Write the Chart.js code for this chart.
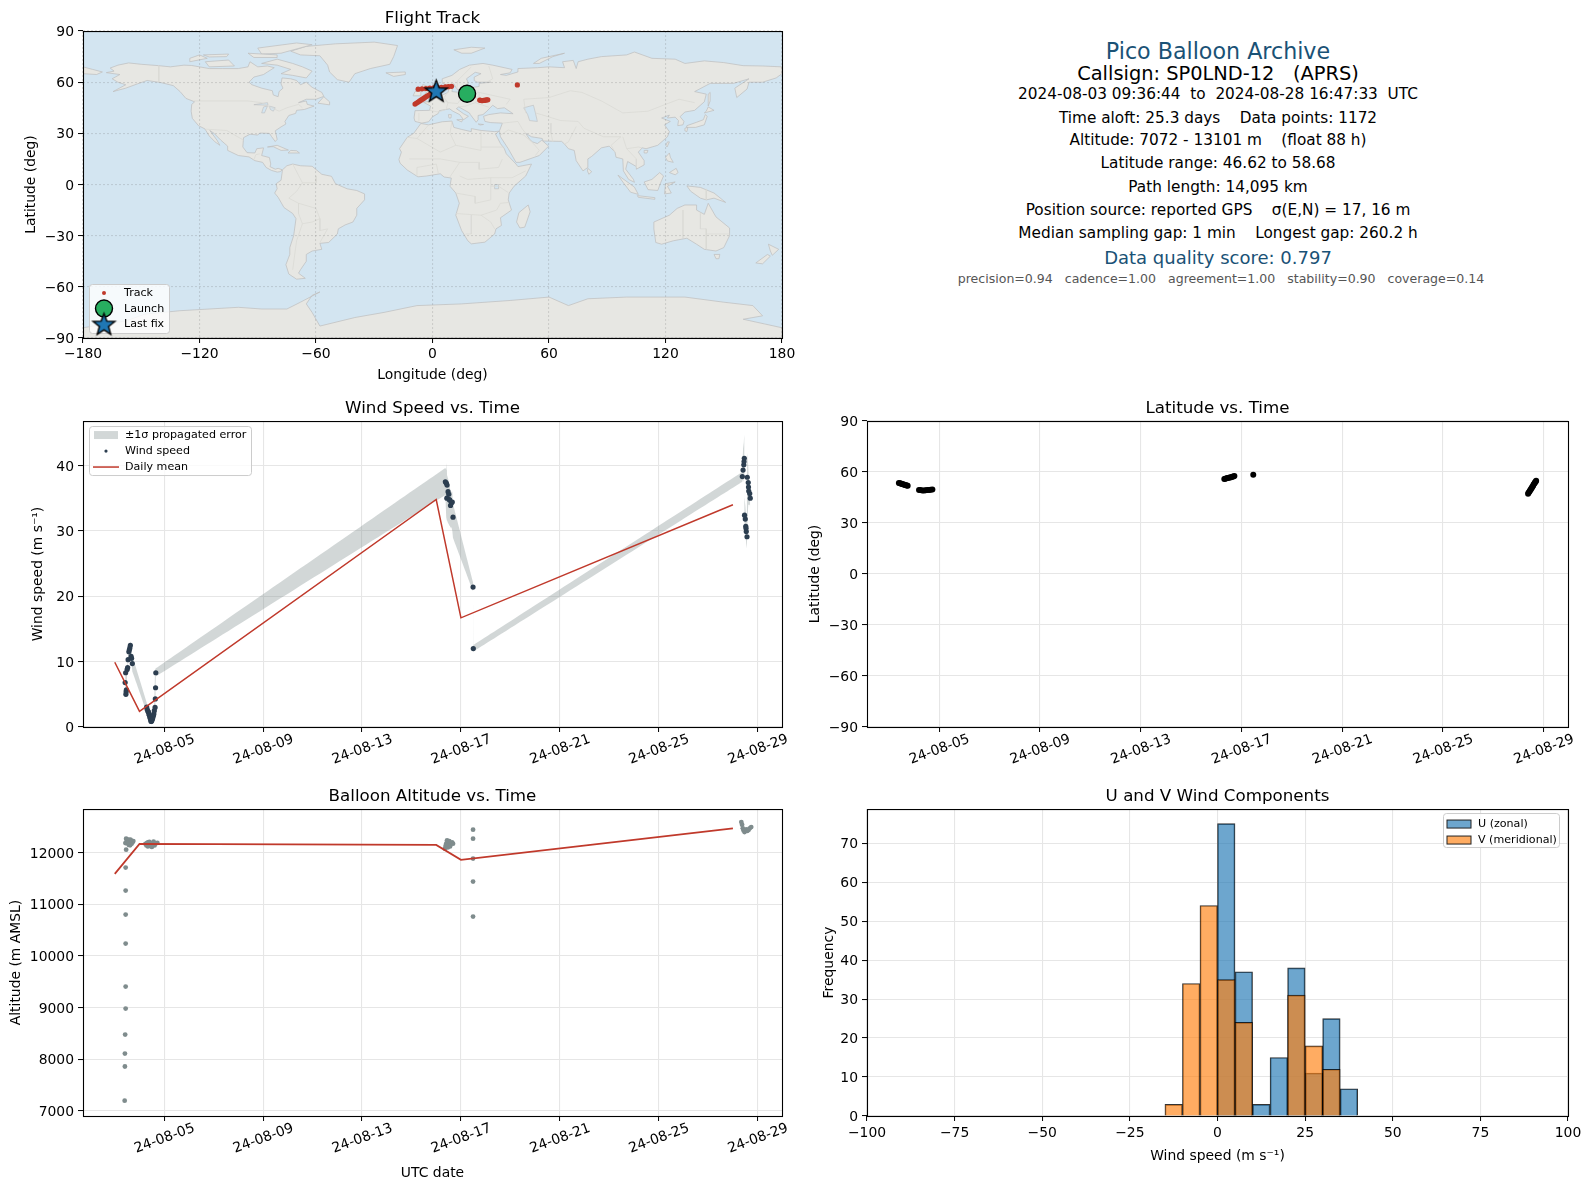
<!DOCTYPE html>
<html>
<head>
<meta charset="utf-8">
<title>Pico Balloon Archive</title>
<script src="https://cdn.jsdelivr.net/npm/chart.js@4/dist/chart.umd.js"></script>
<style>
html, body { margin: 0; padding: 0; background: #fff; }
#page { position: relative; width: 1589px; height: 1189px; overflow: hidden; font-family: "DejaVu Sans", sans-serif; color: #000; }
#page canvas { position: absolute; }
.info { position: absolute; left: 1218px; transform: translate(-50%, -50%); white-space: pre; font-size: 15.3px; }
.info.head { font-size: 22.2px; color: #1a5276; }
.info.call { font-size: 19.4px; }
.info.score { font-size: 18px; color: #1a5276; }
.info.small { font-size: 12.55px; color: #555; left: 1221px; }
</style>
</head>
<body>
<div id="page">
  <canvas id="mapChart"></canvas>
  <canvas id="windChart"></canvas>
  <canvas id="latChart"></canvas>
  <canvas id="altChart"></canvas>
  <canvas id="histChart"></canvas>
  <div class="info head" style="top:51px">Pico Balloon Archive</div>
  <div class="info call" style="top:73px">Callsign: SP0LND-12   (APRS)</div>
  <div class="info" style="top:94px">2024-08-03 09:36:44  to  2024-08-28 16:47:33  UTC</div>
  <div class="info" style="top:118px">Time aloft: 25.3 days    Data points: 1172</div>
  <div class="info" style="top:140px">Altitude: 7072 - 13101 m    (float 88 h)</div>
  <div class="info" style="top:163px">Latitude range: 46.62 to 58.68</div>
  <div class="info" style="top:187px">Path length: 14,095 km</div>
  <div class="info" style="top:210px">Position source: reported GPS    σ(E,N) = 17, 16 m</div>
  <div class="info" style="top:233px">Median sampling gap: 1 min    Longest gap: 260.2 h</div>
  <div class="info score" style="top:257px">Data quality score: 0.797</div>
  <div class="info small" style="top:278px">precision=0.94   cadence=1.00   agreement=1.00   stability=0.90   coverage=0.14</div>
</div>
<script>
// ---- tick lists
const timeTickDays = [5, 9, 13, 17, 21, 25, 29];
const timeTickLabels = ['24-08-05', '24-08-09', '24-08-13', '24-08-17', '24-08-21', '24-08-25', '24-08-29'];
const lonTicks = [-180, -120, -60, 0, 60, 120, 180];
const latTicks = [-90, -60, -30, 0, 30, 60, 90];
const windTicks = [0, 10, 20, 30, 40];
const altTicks = [7000, 8000, 9000, 10000, 11000, 12000];
const histXTicks = [-100, -75, -50, -25, 0, 25, 50, 75, 100];
const histYTicks = [0, 10, 20, 30, 40, 50, 60, 70];

// ---- track (day of August 2024, latitude, longitude)
const trackDays = [3.40, 3.44, 3.48, 3.52, 3.56, 3.60, 3.64, 3.68, 3.72, 3.75,
  4.20, 4.26, 4.33, 4.40, 4.46, 4.53, 4.60, 4.66, 4.73,
  16.32, 16.36, 16.41, 16.45, 16.50, 16.54, 16.59, 16.63, 16.68, 16.72,
  17.47,
  28.38, 28.40, 28.43, 28.45, 28.48, 28.50, 28.53, 28.55, 28.58, 28.60, 28.63, 28.65, 28.68, 28.70];
const trackLat = [53.6, 53.4, 53.2, 53.0, 52.8, 52.7, 52.4, 52.2, 52.1, 51.9,
  49.5, 49.4, 49.2, 49.2, 49.3, 49.4, 49.5, 49.6, 49.7,
  55.9, 56.1, 56.3, 56.5, 56.7, 56.8, 57.0, 57.2, 57.4, 57.6,
  58.4,
  47.2, 47.8, 48.4, 49.0, 49.6, 50.2, 50.8, 51.4, 52.0, 52.6, 53.2, 53.8, 54.3, 54.8];
const trackLon = [18.0, 18.4, 18.7, 19.0, 19.3, 19.7, 20.0, 20.3, 20.7, 21.0,
  24.3, 24.8, 25.3, 25.8, 26.3, 26.8, 27.3, 27.9, 28.5,
  -7.4, -5.4, -3.4, -1.4, 0.6, 2.6, 4.6, 6.6, 8.2, 9.8,
  43.7,
  -9.0, -8.2, -7.4, -6.6, -5.8, -5.0, -4.2, -3.4, -2.6, -1.7, -0.8, 0.2, 1.0, 1.9];
const launchLon = [17.8];
const launchLat = [53.2];
const lastFixLon = [1.9];
const lastFixLat = [55.0];

// ---- wind speed with propagated error band
const windDays = [3.42, 3.44, 3.45, 3.46, 3.47, 3.50, 3.52, 3.54, 3.57, 3.59, 3.61, 3.63, 3.66, 3.68, 3.71,
  4.29, 4.31, 4.34, 4.36, 4.38, 4.40, 4.42, 4.44, 4.46, 4.47, 4.49, 4.51, 4.53, 4.55, 4.56, 4.58, 4.60, 4.63, 4.64, 4.65, 4.66,
  16.37, 16.41, 16.43, 16.44, 16.48, 16.51, 16.53, 16.55, 16.58, 16.62, 16.65, 16.68, 17.49, 17.50,
  28.38, 28.41, 28.44, 28.45, 28.46, 28.47, 28.50, 28.52, 28.53, 28.54, 28.57, 28.58, 28.62, 28.63, 28.64, 28.68, 28.70];
const windSpeed = [6.8, 8.3, 5.0, 5.4, 5.7, 8.8, 9.1, 10.3, 11.5, 11.8, 12.1, 12.5, 10.8, 10.5, 9.7,
  3.05, 2.7, 2.4, 2.3, 2.0, 1.8, 1.5, 1.27, 1.0, 0.86, 0.9, 1.1, 1.3, 1.6, 1.8, 2.0, 2.5, 3.0, 4.3, 6.0, 8.3,
  37.5, 37.3, 35.0, 37.0, 36.0, 35.6, 34.8, 34.7, 33.9, 34.3, 34.4, 32.1, 21.4, 12.0,
  38.3, 39.3, 40.1, 40.6, 41.1, 32.4, 31.8, 30.7, 30.4, 29.9, 29.1, 38.2, 37.4, 36.7, 36.1, 35.7, 35.0];
const windUpper = [8.8, 8.8, 8.8, 8.8, 8.8, 9.5, 9.8, 11.0, 12.2, 12.5, 12.8, 13.1, 11.6, 11.3, 10.9,
  3.8, 3.2, 2.9, 2.8, 2.5, 2.3, 2.0, 1.7, 1.5, 1.4, 1.4, 1.6, 1.8, 2.1, 2.3, 2.5, 3.0, 8.8, 8.8, 8.9, 8.9,
  39.6, 39.3, 40.4, 38.5, 38.0, 37.5, 37.0, 36.8, 36.0, 36.0, 36.0, 34.1, 22.2, 12.5,
  39.0, 42.5, 43.5, 44.2, 44.7, 35.0, 34.0, 33.0, 32.5, 32.0, 31.0, 41.9, 40.0, 39.0, 38.0, 37.5, 36.5];
const windLower = [4.6, 4.6, 4.6, 5.0, 5.3, 8.0, 8.4, 9.6, 10.8, 11.1, 11.4, 11.8, 10.0, 9.7, 8.5,
  2.3, 2.2, 1.9, 1.8, 1.5, 1.3, 1.0, 0.8, 0.5, 0.4, 0.4, 0.6, 0.8, 1.1, 1.3, 1.5, 2.0, 2.5, 3.7, 5.4, 7.7,
  35.5, 32.0, 31.6, 31.6, 31.2, 31.0, 30.8, 30.8, 30.5, 30.5, 30.0, 28.9, 20.8, 11.5,
  37.5, 38.2, 37.5, 38.0, 38.0, 30.0, 29.5, 28.8, 28.5, 28.0, 27.2, 30.0, 34.0, 34.0, 34.0, 34.0, 33.5];
const meanDays = [3, 4, 16, 17, 28];
const meanWind = [9.9, 2.4, 34.8, 16.7, 34.0];
const meanAlt = [11590, 12170, 12150, 11860, 12470];

// ---- altitude
const altDays = [3.40, 3.41, 3.41, 3.42, 3.44, 3.44, 3.44, 3.44, 3.44, 3.44, 3.46,
  3.43, 3.46, 3.48, 3.50, 3.52, 3.55, 3.57, 3.60, 3.62, 3.65, 3.68, 3.70, 3.72, 3.75, 3.55, 3.63,
  4.24, 4.28, 4.31, 4.34, 4.37, 4.40, 4.43, 4.46, 4.50, 4.53, 4.57, 4.61, 4.66, 4.72, 4.35, 4.48,
  16.35, 16.38, 16.41, 16.44, 16.47, 16.50, 16.53, 16.56, 16.60, 16.64, 16.68,
  17.49, 17.49, 17.49, 17.49, 17.49,
  28.34, 28.37, 28.40, 28.43, 28.47, 28.50, 28.54, 28.58, 28.63, 28.68, 28.74];
const altMeters = [7197, 7859, 8110, 8478, 8981, 9407, 10239, 10800, 11265, 11710, 12058,
  12186, 12271, 12250, 12180, 12230, 12251, 12150, 12205, 12141, 12238, 12174, 12224, 12200, 12224, 12190, 12250,
  12170, 12140, 12190, 12120, 12165, 12210, 12130, 12180, 12110, 12170, 12215, 12140, 12180, 12190, 12200, 12150,
  12077, 12130, 12180, 12238, 12100, 12150, 12220, 12120, 12174, 12200, 12174,
  12445, 12271, 11884, 11439, 10762,
  12592, 12540, 12470, 12430, 12399, 12420, 12450, 12420, 12440, 12470, 12495];

// ---- histogram, bins 5 wide
const uBinCentres = [2.5, 7.5, 12.5, 17.5, 22.5, 27.5, 32.5, 37.5];
const uCounts = [75, 37, 3, 15, 38, 11, 25, 7];
const vBinCentres = [-12.5, -7.5, -2.5, 2.5, 7.5, 22.5, 27.5, 32.5];
const vCounts = [3, 34, 54, 35, 24, 31, 18, 12];

// ---- map outlines [lon, lat]
const northAmerica = [[-168,65.6],[-164,66.5],[-166,68.3],[-162,70],[-156.5,71.3],[-150,70.5],[-141,69.7],[-135,69],[-128,70],[-124,69.8],[-115,68],[-108,68],[-100,68],[-95,69],[-94,72],[-90,69],[-85,69.5],[-81.5,68.5],[-85,66],[-87,64.5],[-92,63],[-94.5,60],[-93,58.5],[-88,56.5],[-82.5,55],[-82,52.5],[-79.5,51.5],[-79,54.5],[-77,56.5],[-78,59],[-77.5,62.5],[-73,62],[-70,61],[-68,58.5],[-65,60],[-62,57],[-57,54],[-56,51.7],[-60,50],[-65,50],[-69,48],[-65,49],[-64.5,47],[-61,46],[-66,44],[-70,43.5],[-70.5,41.7],[-74,40.5],[-76,37],[-75.5,35.5],[-78,33.8],[-81,31.5],[-80,26.5],[-81,25.2],[-82.8,28],[-84,30],[-89,30.2],[-90,29],[-94,29.5],[-97.3,27.5],[-97.7,22],[-95.5,18.7],[-91.5,18.5],[-90.5,21],[-87,21.5],[-88,17],[-84,15.8],[-83.3,12],[-83.7,10.5],[-81,9],[-79.5,9.5],[-77.3,8.6],[-78.5,7.5],[-80,7.3],[-83,8.3],[-85.7,10],[-87.5,13],[-91.5,14],[-94.5,16.2],[-100,17],[-105.5,20],[-105.5,22.5],[-109,26],[-112.5,30],[-114.7,31.7],[-111,26],[-109.5,23],[-112,25],[-115,28.5],[-117.2,32.6],[-120.5,34.5],[-123.7,38.8],[-124.3,43],[-124,47],[-122.5,48.5],[-127,50.5],[-130,54.5],[-133.5,58],[-140,59.8],[-147,61],[-152,59],[-158,56.5],[-164.5,54.5],[-158,58.5],[-162,60],[-165,62],[-161,64.5]];
const greenland = [[-73,78.2],[-65,81],[-50,82.5],[-30,83.5],[-18,81.5],[-20,75],[-22,70.5],[-32,68],[-40,65],[-43,60],[-49,61.5],[-53,66],[-54,70],[-58,75.5],[-68,76]];
const baffin = [[-80,73.5],[-72,71],[-67,69],[-62,66.5],[-65,62.5],[-72,64],[-78,65],[-73,67.5],[-80,70],[-88,71]];
const victoriaIsland = [[-117,72],[-105,73],[-102,69.5],[-115,69]];
const ellesmere = [[-90,80],[-70,83],[-62,82],[-78,77],[-88,76.5]];
const banksIsland = [[-125,72],[-116,74],[-120,76],[-125,74]];
const devonIsland = [[-95,77],[-80,76],[-80,74.5],[-92,74.5]];
const melvilleIsland = [[-118,76],[-105,76.5],[-106,75],[-115,74.8]];
const newfoundland = [[-59,47.7],[-53,46.7],[-53,48.5],[-56,51.5]];
const cuba = [[-85,22],[-80,23],[-74.2,20.2],[-78,20],[-82,22.2]];
const hispaniola = [[-74.4,18.5],[-68.5,18.5],[-70,19.8],[-73,20]];
const southAmerica = [[-77.3,8.6],[-75,11],[-72,12],[-68,11],[-62,10.7],[-57,6],[-52,4.8],[-50,0.5],[-44,-2.5],[-39,-3.5],[-35,-5.5],[-35,-9],[-39,-14],[-39,-18],[-41,-22],[-45,-23.7],[-48.5,-26],[-49,-29],[-53.5,-34],[-58,-34.5],[-57,-38],[-62,-39],[-65,-41],[-65,-45],[-68,-50],[-69,-52],[-65.5,-55],[-70,-55.5],[-74,-52.5],[-75.5,-47],[-73.5,-41],[-73.5,-37],[-71.5,-30],[-70.3,-20],[-72,-17],[-76.5,-13.5],[-79.5,-7.5],[-81.3,-5],[-80,-2.5],[-80.5,0.5],[-78,2.5],[-77.5,6.5]];
const africa = [[-6,35.8],[-2,35],[5,36.8],[10,37.2],[11,33.5],[15,32.3],[20,31],[20,32.8],[25,31.7],[32,31],[34.2,31.3],[32.5,29.5],[35,24],[37,21],[38,18],[43,12],[44,10.5],[51,12],[48,5],[42,-1],[39.5,-5],[39,-9],[40.7,-15],[35,-19.5],[35.5,-24],[32.7,-26],[32,-29],[27,-33.8],[20,-34.8],[18.2,-33],[15,-27],[12,-18],[13.8,-11],[12,-5],[9,-1],[9.7,3.8],[6,4.4],[4,6.3],[-3,5],[-7.5,4.5],[-13,8.5],[-16.7,12.5],[-17.3,14.7],[-16,19],[-17,21],[-13,27.7],[-9.7,30]];
const madagascar = [[49.3,-12],[50.3,-16],[47.5,-25],[45,-25.5],[43.3,-22],[44.5,-16.5]];
const eurasia = [[-9,37],[-9.5,39],[-9,43.3],[-1.5,43.5],[-1,46],[-4.7,48.3],[-1.5,48.7],[2,51],[4,52],[8,54],[8.5,57],[10.5,57.5],[10,54.5],[14,54],[19,54.5],[21,57],[24,57.5],[24,59.3],[30,60],[23,60],[21.5,61],[21.5,63],[25,65],[22,65.8],[17.5,62],[18.5,59.5],[16.5,57],[14,55.5],[12.5,56],[11,59],[8,58],[5,59.5],[5,62],[10,64],[14,67.5],[19,70],[26,71],[31,70],[41,67.5],[40,65.5],[35,64.5],[38,64],[44,66],[44,68],[54,68.5],[60,69],[68,68.5],[67,72],[72.5,72.8],[74,68],[75,72],[80,73.5],[87,75],[100,76],[104,77.7],[113,74],[125,73.5],[130,71],[140,72.5],[150,71.5],[160,69.7],[170,69.5],[180,69],[180,65],[177,62.5],[170,60],[163,60],[162,56],[156.7,51],[155.7,56.5],[163,62],[155,59.3],[143,59.3],[135,54.5],[141,53],[140,48.5],[135,43.5],[130,42.5],[127.5,39.8],[129.5,37],[129,35],[126.3,34.5],[126.7,37.5],[125,39.5],[121,39],[122,40.7],[118,39],[122.5,37],[119.5,35],[122,31],[121,28],[116,23],[110,21],[108,21.5],[106,19],[109,14],[109,11.5],[105,9],[105,10.5],[100.5,13.5],[99.5,9],[103.5,3],[104,1.3],[101,3],[98.3,8],[98,15],[94.5,16],[94,19],[91,22.5],[87,21.5],[82,16.5],[80,15],[80,10],[77.5,8],[74,14],[73,20],[70,21],[68,23.7],[66.5,25.3],[57,25.5],[56.5,27],[51,28],[48,30],[50,26.5],[51.5,25],[54,24],[56.3,26],[59.8,22.5],[55,17],[45,13],[43,13],[39,21],[35,28],[34.5,31.5],[36,36],[30,36.3],[27,37],[26.3,40],[29,41],[35,42],[41.5,41.5],[37,45],[33.5,44.5],[31,46.5],[28,43],[26,41],[23.5,40.5],[23.5,38],[22.5,36.5],[19.5,41],[19,42],[13.5,45.5],[12.3,44.5],[16,41.5],[18.5,40],[16,38],[14,41],[10.5,43],[8.8,44.4],[3.5,43.3],[3,41.7],[0,39.7],[-2,36.8],[-5.5,36]];
const chukotkaWest = [[-180,69],[-175,67.5],[-170,66],[-173,64.5],[-180,65]];
const greatBritain = [[-5.5,50],[1.3,51.2],[1.7,52.7],[-1.5,55],[-2,57.5],[-5,58.6],[-6,56],[-3,54],[-5,52]];
const ireland = [[-10,52],[-6,52],[-6,55],[-9,54.5]];
const iceland = [[-24,65.5],[-14,66],[-14,64.5],[-20,63.4]];
const svalbard = [[11,79],[20,80.5],[27,80],[20,77],[15,77]];
const novayaZemlya = [[52,71],[56,74],[68,77],[62,75],[55,71]];
const sicily = [[12.5,38],[15.6,38.2],[15,36.7]];
const sardinia = [[8.2,41],[9.7,41],[9.5,39],[8.5,39]];
const crete = [[23.5,35.5],[26.3,35.2],[24.5,34.9]];
const honshu = [[130.8,33.5],[135.5,33.5],[140,35],[141.5,40],[140.5,41],[139.5,38],[136,36.5],[131,34.5]];
const hokkaido = [[140,42],[145,43.5],[142,45.5],[141,43]];
const kyushu = [[130,33],[131.5,33.5],[131,31],[130,31.5]];
const sakhalin = [[142,46],[143,49],[143,54],[142,53],[142,48]];
const taiwan = [[120.2,23],[121,25],[122,25],[120.8,22]];
const hainan = [[109,18.5],[110.5,18.5],[111,20],[109,20]];
const sriLanka = [[80,9.5],[82,7.5],[80.5,6],[79.8,8]];
const luzon = [[120,16],[122,18.5],[122.5,16],[124,13],[121,13.8]];
const mindanao = [[122,7],[125.5,9.5],[126.5,7],[125,5.7]];
const sumatra = [[95.5,5.5],[104,-1.5],[106,-5.8],[102,-4.5],[98,1.5]];
const java = [[105.5,-6.5],[114.5,-7.7],[114.5,-8.7],[106,-7.5]];
const borneo = [[109,1.5],[113,3],[117,7],[119,5],[117.5,1],[116,-3.5],[111,-3]];
const sulawesi = [[119.5,-5.5],[120,0.5],[125,1.5],[121,-1],[123,-5]];
const newGuinea = [[131,-0.8],[138,-1.7],[145,-5],[151,-10.5],[145,-8],[141,-9],[138,-8],[133,-4]];
const australia = [[114,-22],[122,-18],[126,-14],[130,-12],[136,-12],[136,-15],[140,-17.5],[142,-11],[146,-19],[153,-25.5],[153,-30],[150,-37],[146,-39],[140,-38],[136,-35],[131,-31.5],[124,-33],[118,-35],[115,-34],[114,-26]];
const tasmania = [[145,-41],[148,-41],[147.5,-43.5],[146,-43.5]];
const newZealandNorth = [[173,-35],[178.3,-38],[175,-41.5],[174,-39]];
const newZealandSouth = [[172.5,-41],[174,-42],[170,-46.5],[166.5,-46]];
const antarctica = [[-180,-84],[-158,-80],[-148,-76],[-130,-74],[-100,-72],[-88,-73],[-75,-73],[-68,-69],[-58,-63],[-62,-65],[-65,-70],[-62,-75],[-58,-83],[-40,-78],[-25,-75],[-8,-71],[15,-70],[40,-68],[60,-66],[70,-71],[80,-67],[100,-66],[130,-66],[150,-69],[165,-71],[170,-77],[160,-79],[180,-84],[180,-90],[-180,-90]];
const landShapes = [northAmerica, greenland, baffin, victoriaIsland, ellesmere, banksIsland, devonIsland, melvilleIsland, newfoundland, cuba, hispaniola,
  southAmerica, africa, madagascar, eurasia, chukotkaWest, greatBritain, ireland, iceland, svalbard, novayaZemlya, sicily, sardinia, crete,
  honshu, hokkaido, kyushu, sakhalin, taiwan, hainan, sriLanka, luzon, mindanao, sumatra, java, borneo, sulawesi, newGuinea,
  australia, tasmania, newZealandNorth, newZealandSouth, antarctica];

const caspianSea = [[47,45],[52,46.5],[53,42],[54,37],[50,37.5],[49,41]];
const lakeVictoria = [[32,0],[34,0],[34,-2.5],[32,-2.5]];
const lakeSuperior = [[-92,46.8],[-85,48],[-84.7,46.5]];
const lakeMichigan = [[-88,42],[-86.5,42],[-85,46],[-87,45.5]];
const lakeHuron = [[-84,46],[-81,45],[-82,43],[-83.5,44]];
const waterShapes = [caspianSea, lakeVictoria, lakeSuperior, lakeMichigan, lakeHuron];

// a few country borders, only faint in the picture
const borderLines = [
  [[-123,49],[-95,49],[-88,48],[-83,45],[-79,43],[-75,45],[-69,47],[-67,45]],
  [[-141,69.7],[-141,60]],
  [[-117,32.5],[-106,31.7],[-97.3,26]],
  [[-92,14.5],[-91,17.5],[-89,18]],
  [[-72,12],[-67,1],[-70,-4],[-74,-8],[-69,-11],[-69,-17],[-67,-23],[-70,-33],[-72,-50]],
  [[-60,5],[-60,1],[-67,1]],
  [[-58,-20],[-58,-27],[-54,-26],[-58,-34]],
  [[-69,-11],[-60,-14],[-58,-20],[-62,-22],[-67,-23]],
  [[-2,35],[-8,27],[-13,27.7]],
  [[-8,27],[4,19],[12,23],[25,20],[25,31.7]],
  [[10,37],[9,30],[12,23]],
  [[25,22],[37,22]],
  [[-12,15],[4,15],[14,13],[24,13],[24,9],[34,10],[36,15]],
  [[-8,5],[-8,10],[-3,11],[2,12],[3,6.5]],
  [[9,4.5],[14,13]],
  [[14,5],[18,3],[30,4],[34,4],[41,4],[48,8]],
  [[12,-5],[22,-7],[22,-11],[30,-9],[30,4]],
  [[12,-17],[25,-18],[33,-15],[35,-11],[39.5,-10.5]],
  [[20,-18],[20,-29],[17,-29]],
  [[25,-18],[30,-22],[32,-26]],
  [[30,-1],[34,-1],[39,-4.7]],
  [[14,54],[15,51],[24,50.5],[24,54],[19,54.5]],
  [[8,54.5],[6,51],[8,48],[13,47.5],[15,51]],
  [[2,51],[6,49.5],[8,48],[7,44],[3,42.5],[-1.5,43.5]],
  [[-7,37],[-7,42]],
  [[13.5,45.5],[17,46],[22,48],[24,50.5]],
  [[24,54],[32,52],[40,50],[38,47]],
  [[22,48],[29,45.3]],
  [[28,60],[31,62],[29,69.5]],
  [[12.5,56],[13,61],[20,69]],
  [[48,42],[47,50],[60,51],[71,55],[77,54],[87,49]],
  [[53,42],[56,41],[66,37.5],[75,37]],
  [[61,36],[61,30],[62,25]],
  [[74,34],[70,25],[68,23.7]],
  [[75,37],[78,33],[88,28],[97,28],[92,23],[94,19]],
  [[98,28],[100,21],[106,22],[108,21.5]],
  [[100,21],[105,15],[105,10]],
  [[87,49],[98,42],[111,43],[120,47],[127,50],[135,48]],
  [[36,36],[44,37],[46,33],[48,30]],
  [[35,29],[39,32],[47,29],[52,24],[55,20],[53,17]],
  [[141,-2.6],[141,-9]],
  [[129,-15],[129,-31.5]],
  [[138,-17],[138,-26],[141,-26],[141,-38]],
  [[141,-29],[153,-29]]
];

// ---- shared look
const FONT = '"DejaVu Sans", sans-serif';
const LEFT_GAP = 90;
const TITLE_H = 26;
const RIGHT_PAD = 34;
const gridGrey = '#e6e6e6';
const mapGrid = 'rgba(110,110,110,0.22)';
const oceanBlue = '#d3e5f1';
const landGrey = '#e7e7e3';
const coastGrey = '#bdbdbd';
const redLine = '#c0392b';
// near zero tension keeps Chart.js off its fast path, which merges points in the same pixel column
const NO_FAST_PATH = 0.0001;

function minusSign(v) {
  return String(v).replace('-', '\u2212');
}

function placeCanvas(id, left, top, right, bottom, axisH) {
  const c = document.getElementById(id);
  c.width = LEFT_GAP + (right - left) + RIGHT_PAD;
  c.height = TITLE_H + (bottom - top) + axisH;
  c.style.left = (left - LEFT_GAP) + 'px';
  c.style.top = (top - TITLE_H) + 'px';
  return c;
}

function baseOptions(titleText) {
  return {
    responsive: false,
    animation: false,
    layout: { padding: { right: RIGHT_PAD } },
    plugins: {
      legend: { display: false },
      tooltip: { enabled: false },
      title: {
        display: true, text: titleText, color: '#000', fullSize: false,
        font: { family: FONT, size: 16.7, weight: 'normal', lineHeight: 1.2 },
        padding: { top: 3.5, bottom: 2.5 }
      }
    }
  };
}

function axis(tickValues, min, max, label, opts) {
  const isX = opts.isX;
  const scale = {
    type: 'linear', min: min, max: max,
    afterBuildTicks: s => { s.ticks = tickValues.map(v => ({ value: v })); },
    grid: { color: opts.gridColor || gridGrey, lineWidth: 1.1, tickLength: 5, tickColor: '#000', tickWidth: 1, z: opts.gridZ || 0 },
    border: { display: false, dash: opts.dash || [] },
    ticks: {
      autoSkip: false, color: '#000', padding: opts.tickPad === undefined ? 4 : opts.tickPad,
      font: { family: FONT, size: 13.9 },
      callback: opts.labels ? (v, i) => opts.labels[i] : v => minusSign(v)
    },
    title: { display: !!label, text: label || '', color: '#000', font: { family: FONT, size: 13.9, lineHeight: 1.2 } }
  };
  if (isX) {
    scale.position = 'bottom';
    scale.afterFit = s => { s.height = opts.size; };
    scale.title.padding = { top: 0, bottom: 0 };
    if (opts.labels) {
      scale.ticks.minRotation = 20;
      scale.ticks.maxRotation = 20;
      scale.ticks.labelOffset = 30;
      scale.ticks.padding = -1;
    }
  } else {
    scale.position = 'left';
    scale.afterFit = s => { s.width = LEFT_GAP; };
    scale.ticks.labelOffset = 1.5;
    scale.title.padding = { top: opts.titlePad, bottom: 0 };
  }
  return scale;
}

// top/right spines as well, Chart.js only has the axis lines
const framePlugin = {
  id: 'frame',
  afterDraw(chart) {
    const a = chart.chartArea, ctx = chart.ctx;
    ctx.save();
    ctx.strokeStyle = '#000';
    ctx.lineWidth = 1.1;
    ctx.strokeRect(a.left + 0.5, a.top + 0.5, a.right - a.left, a.bottom - a.top);
    ctx.restore();
  }
};

const oceanPlugin = {
  id: 'ocean',
  beforeDraw(chart) {
    const a = chart.chartArea, ctx = chart.ctx;
    ctx.save();
    ctx.fillStyle = oceanBlue;
    ctx.fillRect(a.left, a.top, a.right - a.left, a.bottom - a.top);
    ctx.restore();
  }
};

// land and lakes go under the datasets, placed through the chart's own scales
const landPlugin = {
  id: 'land',
  beforeDatasetsDraw(chart) {
    const a = chart.chartArea, ctx = chart.ctx;
    const sx = chart.scales.x, sy = chart.scales.y;
    const paint = (shape, fill, width) => {
      ctx.beginPath();
      shape.forEach((p, i) => {
        const px = sx.getPixelForValue(p[0]), py = sy.getPixelForValue(p[1]);
        if (i === 0) ctx.moveTo(px, py); else ctx.lineTo(px, py);
      });
      ctx.closePath();
      ctx.fillStyle = fill;
      ctx.fill();
      ctx.strokeStyle = coastGrey;
      ctx.lineWidth = width;
      ctx.stroke();
    };
    ctx.save();
    ctx.beginPath();
    ctx.rect(a.left, a.top, a.right - a.left, a.bottom - a.top);
    ctx.clip();
    landShapes.forEach(s => paint(s, landGrey, 0.7));
    waterShapes.forEach(s => paint(s, oceanBlue, 0.6));
    ctx.restore();
  }
};

function starImage(radius, fill) {
  const size = Math.ceil(radius * 2 + 4);
  const c = document.createElement('canvas');
  c.width = size; c.height = size;
  const g = c.getContext('2d');
  g.translate(size / 2, size / 2 + 1);
  g.beginPath();
  for (let i = 0; i < 10; i++) {
    const r = i % 2 ? radius * 0.42 : radius;
    const ang = -Math.PI / 2 + i * Math.PI / 5;
    g.lineTo(r * Math.cos(ang), r * Math.sin(ang));
  }
  g.closePath();
  g.fillStyle = fill;
  g.fill();
  g.lineWidth = 1.4;
  g.strokeStyle = '#000';
  g.stroke();
  return c;
}
const lastFixStar = starImage(11.5, '#1f77b4');

// legend inside the axes, the built-in one can't sit there
function insideLegend(box, items) {
  return {
    id: 'insideLegend',
    afterDraw(chart) {
      const ctx = chart.ctx, a = chart.chartArea;
      const x0 = box.right ? a.right - box.right - box.w : a.left + box.left;
      const y0 = box.bottom !== undefined ? a.bottom - box.bottom - box.h : a.top + box.top;
      ctx.save();
      ctx.beginPath();
      ctx.roundRect(x0 + 0.5, y0 + 0.5, box.w, box.h, 3);
      ctx.fillStyle = 'rgba(255,255,255,0.8)';
      ctx.fill();
      ctx.strokeStyle = '#cccccc';
      ctx.lineWidth = 1;
      ctx.stroke();
      ctx.font = '11.1px ' + FONT;
      ctx.textBaseline = 'middle';
      items.forEach((it, i) => {
        const y = y0 + box.firstY + i * box.stepY;
        const mx = x0 + box.markerX;
        if (it.kind === 'swatch') {
          ctx.globalAlpha = it.alpha;
          ctx.fillStyle = it.color;
          ctx.fillRect(mx - 12, y - 4, 24, 8);
          ctx.globalAlpha = 1;
          if (it.edge) { ctx.strokeStyle = it.edge; ctx.lineWidth = 1; ctx.strokeRect(mx - 12, y - 4, 24, 8); }
        } else if (it.kind === 'line') {
          ctx.strokeStyle = it.color; ctx.lineWidth = 1.5;
          ctx.beginPath(); ctx.moveTo(mx - 13, y); ctx.lineTo(mx + 13, y); ctx.stroke();
        } else if (it.kind === 'star') {
          ctx.drawImage(lastFixStar, mx - lastFixStar.width / 2, y - lastFixStar.height / 2);
        } else {
          ctx.beginPath(); ctx.arc(mx, y, it.radius, 0, Math.PI * 2);
          ctx.fillStyle = it.color; ctx.fill();
          if (it.edge) { ctx.strokeStyle = it.edge; ctx.lineWidth = 1.4; ctx.stroke(); }
        }
        ctx.fillStyle = '#000';
        ctx.fillText(it.label, x0 + box.textX, y + 0.5);
      });
      ctx.restore();
    }
  };
}

function xy(xs, ys) {
  return xs.map((x, i) => ({ x: x, y: ys[i] }));
}
function lonLat(pairs) {
  return pairs.map(p => ({ x: p[0], y: p[1] }));
}

// ---- Flight Track
const mapDatasets = [
  { label: 'Last fix', data: xy(lastFixLon, lastFixLat), pointStyle: lastFixStar, pointRadius: 11, order: 0 },
  { label: 'Launch', data: xy(launchLon, launchLat), pointRadius: 8.5, pointBackgroundColor: '#27ae60', pointBorderColor: '#000', pointBorderWidth: 1.4, order: 1 },
  { label: 'Track', data: xy(trackLon, trackLat), pointRadius: 2.6, pointBackgroundColor: redLine, pointBorderWidth: 0, order: 2 }
];
borderLines.forEach(s => mapDatasets.push({ data: lonLat(s), showLine: true, fill: false, borderColor: '#dbdbd6', borderWidth: 0.8, pointRadius: 0, order: 8 }));

const mapOpts = baseOptions('Flight Track');
mapOpts.scales = {
  x: axis(lonTicks, -180, 180, 'Longitude (deg)', { isX: true, size: 46, gridColor: mapGrid, gridZ: 1, dash: [2, 2], tickPad: 3 }),
  y: axis(latTicks, -90, 90, 'Latitude (deg)', { titlePad: 30, gridColor: mapGrid, gridZ: 1, dash: [2, 2] })
};
new Chart(placeCanvas('mapChart', 83, 31, 782, 338, 46), {
  type: 'scatter',
  data: { datasets: mapDatasets },
  options: mapOpts,
  plugins: [oceanPlugin, landPlugin, framePlugin, insideLegend(
    { left: 6, bottom: 5, w: 80, h: 49, firstY: 9, stepY: 15.5, markerX: 15, textX: 35 },
    [{ label: 'Track', kind: 'dot', radius: 2, color: redLine },
     { label: 'Launch', kind: 'dot', radius: 8.5, color: '#27ae60', edge: '#000' },
     { label: 'Last fix', kind: 'star' }]
  )]
});

// ---- Wind Speed vs. Time
const windOpts = baseOptions('Wind Speed vs. Time');
windOpts.scales = {
  x: axis(timeTickDays, 1.715, 29.985, '', { isX: true, size: 60, labels: timeTickLabels }),
  y: axis(windTicks, 0, 46.8, 'Wind speed (m s\u207B\u00B9)', { titlePad: 37 })
};
new Chart(placeCanvas('windChart', 83, 421, 782, 727, 60), {
  type: 'scatter',
  data: {
    datasets: [
      { label: 'Daily mean', data: xy(meanDays, meanWind), showLine: true, borderColor: redLine, borderWidth: 1.5, pointRadius: 0, order: 1 },
      { label: 'Wind speed', data: xy(windDays, windSpeed), pointRadius: 2.6, pointBackgroundColor: '#2c3e50', pointBorderWidth: 0, order: 2 },
      { label: '\u00B11\u03C3 propagated error', data: xy(windDays, windUpper), showLine: true, tension: NO_FAST_PATH, fill: { target: 3 }, backgroundColor: 'rgba(127,140,141,0.35)', borderWidth: 0, borderColor: 'rgba(0,0,0,0)', pointRadius: 0, order: 3 },
      { data: xy(windDays, windLower), showLine: true, tension: NO_FAST_PATH, borderWidth: 0, borderColor: 'rgba(0,0,0,0)', pointRadius: 0, order: 4 }
    ]
  },
  options: windOpts,
  plugins: [framePlugin, insideLegend(
    { left: 6, top: 5, w: 162, h: 49, firstY: 9, stepY: 16, markerX: 17, textX: 36 },
    [{ label: '\u00B11\u03C3 propagated error', kind: 'swatch', color: '#7f8c8d', alpha: 0.35 },
     { label: 'Wind speed', kind: 'dot', radius: 1.6, color: '#2c3e50' },
     { label: 'Daily mean', kind: 'line', color: redLine }]
  )]
});

// ---- Latitude vs. Time
const latOpts = baseOptions('Latitude vs. Time');
latOpts.scales = {
  x: axis(timeTickDays, 2.135, 29.965, '', { isX: true, size: 60, labels: timeTickLabels }),
  y: axis(latTicks, -90, 90, 'Latitude (deg)', { titlePad: 30 })
};
new Chart(placeCanvas('latChart', 867, 421, 1568, 727, 60), {
  type: 'scatter',
  data: { datasets: [{ label: 'Latitude', data: xy(trackDays, trackLat), pointRadius: 3, pointBackgroundColor: '#000', pointBorderWidth: 0 }] },
  options: latOpts,
  plugins: [framePlugin]
});

// ---- Balloon Altitude vs. Time
const altOpts = baseOptions('Balloon Altitude vs. Time');
altOpts.scales = {
  x: axis(timeTickDays, 1.715, 29.985, 'UTC date', { isX: true, size: 66, labels: timeTickLabels }),
  y: axis(altTicks, 6901, 12844, 'Altitude (m AMSL)', { titlePad: 15 })
};
new Chart(placeCanvas('altChart', 83, 809, 782, 1116, 66), {
  type: 'scatter',
  data: {
    datasets: [
      { label: 'Daily mean', data: xy(meanDays, meanAlt), showLine: true, borderColor: redLine, borderWidth: 1.8, pointRadius: 0, order: 1 },
      { label: 'Altitude', data: xy(altDays, altMeters), pointRadius: 2.4, pointBackgroundColor: '#7f8c8d', pointBorderWidth: 0, order: 2 }
    ]
  },
  options: altOpts,
  plugins: [framePlugin]
});

// ---- U and V Wind Components
const histOpts = baseOptions('U and V Wind Components');
histOpts.scales = {
  x: axis(histXTicks, -100, 100, 'Wind speed (m s\u207B\u00B9)', { isX: true, size: 49 }),
  y: axis(histYTicks, 0, 78.75, 'Frequency', { titlePad: 44 })
};
histOpts.scales.x.offset = false;
histOpts.scales.x.grid.offset = false;
new Chart(placeCanvas('histChart', 867, 809, 1568, 1116, 49), {
  type: 'bar',
  data: {
    datasets: [
      { label: 'V (meridional)', data: xy(vBinCentres, vCounts), backgroundColor: 'rgba(255,127,14,0.65)', borderColor: 'rgba(0,0,0,0.8)', borderWidth: 1, order: 1 },
      { label: 'U (zonal)', data: xy(uBinCentres, uCounts), backgroundColor: 'rgba(31,119,180,0.65)', borderColor: 'rgba(0,0,0,0.8)', borderWidth: 1, order: 2 }
    ]
  },
  options: Object.assign(histOpts, { grouped: false, categoryPercentage: 1, barPercentage: 1 }),
  plugins: [framePlugin, insideLegend(
    { right: 9, top: 4, w: 116, h: 34, firstY: 11, stepY: 16, markerX: 16, textX: 35 },
    [{ label: 'U (zonal)', kind: 'swatch', color: '#1f77b4', alpha: 0.65, edge: '#222' },
     { label: 'V (meridional)', kind: 'swatch', color: '#ff7f0e', alpha: 0.65, edge: '#222' }]
  )]
});
</script>
</body>
</html>
